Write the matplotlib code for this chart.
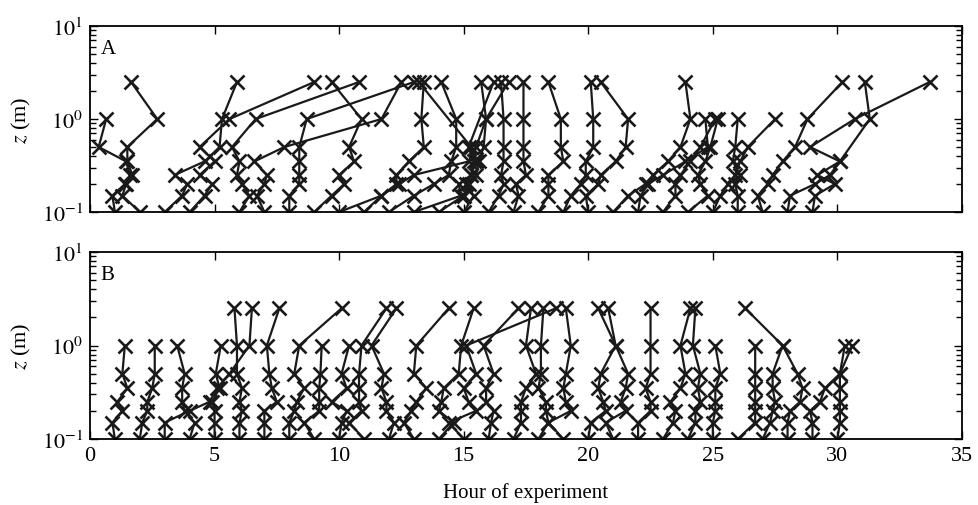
import numpy as np
import matplotlib
matplotlib.use('Agg')
import matplotlib.pyplot as plt

plt.rcParams['font.family'] = ['Liberation Serif', 'DejaVu Serif']
plt.rcParams['mathtext.fontset'] = 'stix'

# measurement heights (m)
heights = [0.1, 0.15, 0.2, 0.25, 0.35, 0.5, 1.0, 2.5]
nan = np.nan

# Panel A: hour at each height, one list per profile
profiles_a = [
    [1.0, 0.9, 1.4, 1.7, 1.5, 1.5, 2.7, 1.65],
    [2.0, 1.3, 1.45, 1.6, 1.45, 0.35, 0.65, nan],
    [3.0, 3.7, 3.9, 3.4, 4.6, 5.2, 5.3, 5.9],
    [4.0, 4.6, 4.9, 4.4, 5.0, 4.4, 5.6, 9.0],
    [6.0, 6.4, 6.1, 5.9, 6.0, 5.7, 6.65, 10.8],
    [7.0, 6.7, 7.0, 7.1, 6.6, 7.8, 11.7, 12.5],
    [8.0, 8.0, 8.4, 8.4, 8.4, 8.4, 8.7, 13.0],
    [9.0, 9.7, 10.2, 10.0, 10.6, 10.4, 10.9, 9.7],
    [10.0, 11.7, 12.4, 13.0, 15.2, 15.5, 15.9, 16.8],
    [11.0, 11.7, 12.3, 12.3, 12.8, 13.4, 13.3, 13.4],
    [12.0, 13.0, 13.8, 14.4, 14.5, 14.7, 14.7, 14.1],
    [13.0, 14.9, 14.8, 15.3, 15.5, 15.3, nan, 13.2],
    [14.0, 15.0, 15.2, 15.5, 15.6, 15.8, 15.9, 15.7],
    [15.0, 15.4, 15.1, 15.3, 15.4, 15.2, nan, 16.2],
    [16.0, 16.4, 16.6, 16.5, 16.6, 16.6, 16.6, 16.5],
    [17.0, 17.2, 17.1, 17.5, 17.4, 17.4, 17.4, 17.4],
    [18.0, 18.4, 18.4, 18.4, 19.0, 18.9, 18.9, 18.4],
    [19.0, 19.3, 19.7, 19.9, 19.9, 20.2, 20.2, 20.1],
    [20.0, 19.9, 20.4, 20.5, 21.1, 21.5, 21.6, 20.5],
    [21.0, 21.6, 22.3, 22.6, 23.2, 23.7, 24.1, 23.9],
    [22.0, 22.1, 22.4, 23.0, 23.9, 24.8, 24.7, nan],
    [23.0, 23.5, 23.5, 23.7, 24.1, 24.5, 25.1, nan],
    [24.0, 24.8, 24.5, 24.4, 24.7, 24.9, 25.2, nan],
    [25.0, 25.3, 25.6, 25.9, 26.1, 26.4, 27.5, nan],
    [26.0, 26.0, 25.9, 26.1, 25.8, 25.9, 26.0, nan],
    [27.0, 26.8, 27.2, 27.4, 27.8, 28.3, 28.8, 30.2],
    [28.0, 28.1, 29.1, 29.7, 30.1, 28.9, 30.7, 33.7],
    [29.0, 29.1, 29.9, 29.2, 30.1, nan, 31.3, 31.1],
]

# Panel B
profiles_b = [
    [1.0, 0.9, 1.3, 1.1, 1.5, 1.3, 1.4, nan],
    [2.0, 2.1, 2.3, 2.3, 2.5, 2.6, 2.6, nan],
    [3.0, 3.0, 4.0, 4.8, 5.1, 5.6, 6.4, 6.5],
    [4.0, 4.2, 3.8, 3.7, 3.7, 3.8, 3.5, nan],
    [5.0, 5.0, 5.0, 4.9, 5.2, 5.05, 5.25, nan],
    [6.0, 6.0, 6.1, 6.0, 6.1, 5.9, 5.9, 5.8],
    [7.0, 7.0, 7.0, 7.5, 7.3, 7.2, 7.1, 7.6],
    [8.0, 8.0, 8.2, 8.3, 8.6, 8.2, 8.4, 10.1],
    [9.0, 8.6, 9.2, 9.2, 9.2, 9.25, 9.3, nan],
    [10.0, 10.1, 10.3, 9.7, 10.3, 10.1, 10.4, nan],
    [11.0, 10.4, 10.9, 10.8, 10.8, 10.8, 10.9, 11.9],
    [12.0, 12.2, 11.9, 11.9, 11.7, 11.8, 11.3, 12.3],
    [13.0, 12.6, 12.9, 13.1, 13.5, 13.0, 13.1, 14.4],
    [14.0, 14.6, 14.0, 14.1, 14.2, 14.8, 14.9, 15.4],
    [15.0, 14.4, 15.5, 15.2, 15.0, 15.5, 15.1, 18.7],
    [16.0, 16.1, 16.2, 15.9, 15.9, 16.2, 15.8, 17.2],
    [17.0, 17.3, 17.3, 17.3, 17.5, 17.9, 17.5, 17.7],
    [18.0, 18.4, 18.3, 18.3, 18.0, 18.1, 18.1, 18.2],
    [19.0, 18.4, 19.3, 19.1, 19.0, 19.1, 19.3, 19.1],
    [20.0, 20.1, 20.7, 20.6, 20.4, 20.5, 21.1, 20.4],
    [21.0, 20.7, 21.5, 21.3, 21.5, 21.6, 21.1, 20.8],
    [22.0, 22.0, 22.5, 22.5, 22.3, 22.5, 22.5, 22.5],
    [23.0, 23.4, 23.5, 23.3, 23.7, 23.9, 23.7, 24.1],
    [24.0, 24.3, 24.3, 24.5, 24.4, 24.5, 24.2, 24.3],
    [25.0, 25.0, 25.1, 25.1, 25.1, 25.3, 25.1, nan],
    [26.0, 26.7, 26.7, 26.7, 26.7, 26.7, 26.7, nan],
    [27.0, 27.3, 27.4, 27.5, 27.4, 27.4, 27.8, 26.3],
    [28.0, 28.0, 28.1, 28.5, 28.6, 28.4, 27.8, nan],
    [29.0, 29.0, 28.9, 29.3, 29.5, 30.1, 30.6, nan],
    [30.0, 30.1, 30.1, 30.1, 30.1, 30.1, 30.3, nan],
]

fig = plt.figure(figsize=(9.79, 5.06), dpi=100)
ax_a = fig.add_axes([0.0919, 0.579, 0.8907, 0.3676])
ax_b = fig.add_axes([0.0919, 0.1304, 0.8907, 0.3696])

for ax, profs, label in [(ax_a, profiles_a, 'A'), (ax_b, profiles_b, 'B')]:
    for p in profs:
        p = np.array(p)
        z = np.array(heights)
        ok = ~np.isnan(p)  # skip missing heights, keep line joined
        ax.plot(p[ok], z[ok], '-x', color='#1a1a1a', lw=1.6, ms=9.5, mew=1.9)
    ax.set_yscale('log')
    ax.set_ylim(0.1, 10)
    ax.set_xlim(0, 35)
    ax.set_xticks(range(0, 36, 5))
    ax.set_yticks([0.1, 1, 10])
    ax.set_yticklabels(['$10^{-1}$', '$10^{0}$', '$10^{1}$'])
    ax.tick_params(which='both', direction='in', top=True, right=True,
                   labelsize=16, width=1.0)
    ax.tick_params(which='major', length=6, pad=5)
    ax.tick_params(which='minor', length=4)
    for s in ax.spines.values():
        s.set_linewidth(1.3)
    ax.set_ylabel('$z$ (m)', fontsize=16, labelpad=6)
    ax.text(0.012, 0.93, label, transform=ax.transAxes, fontsize=15,
            va='top', ha='left')

ax_a.set_xticklabels([])
ax_b.set_xlabel('Hour of experiment', fontsize=15, labelpad=12)

fig.savefig('out.png', dpi=100)
